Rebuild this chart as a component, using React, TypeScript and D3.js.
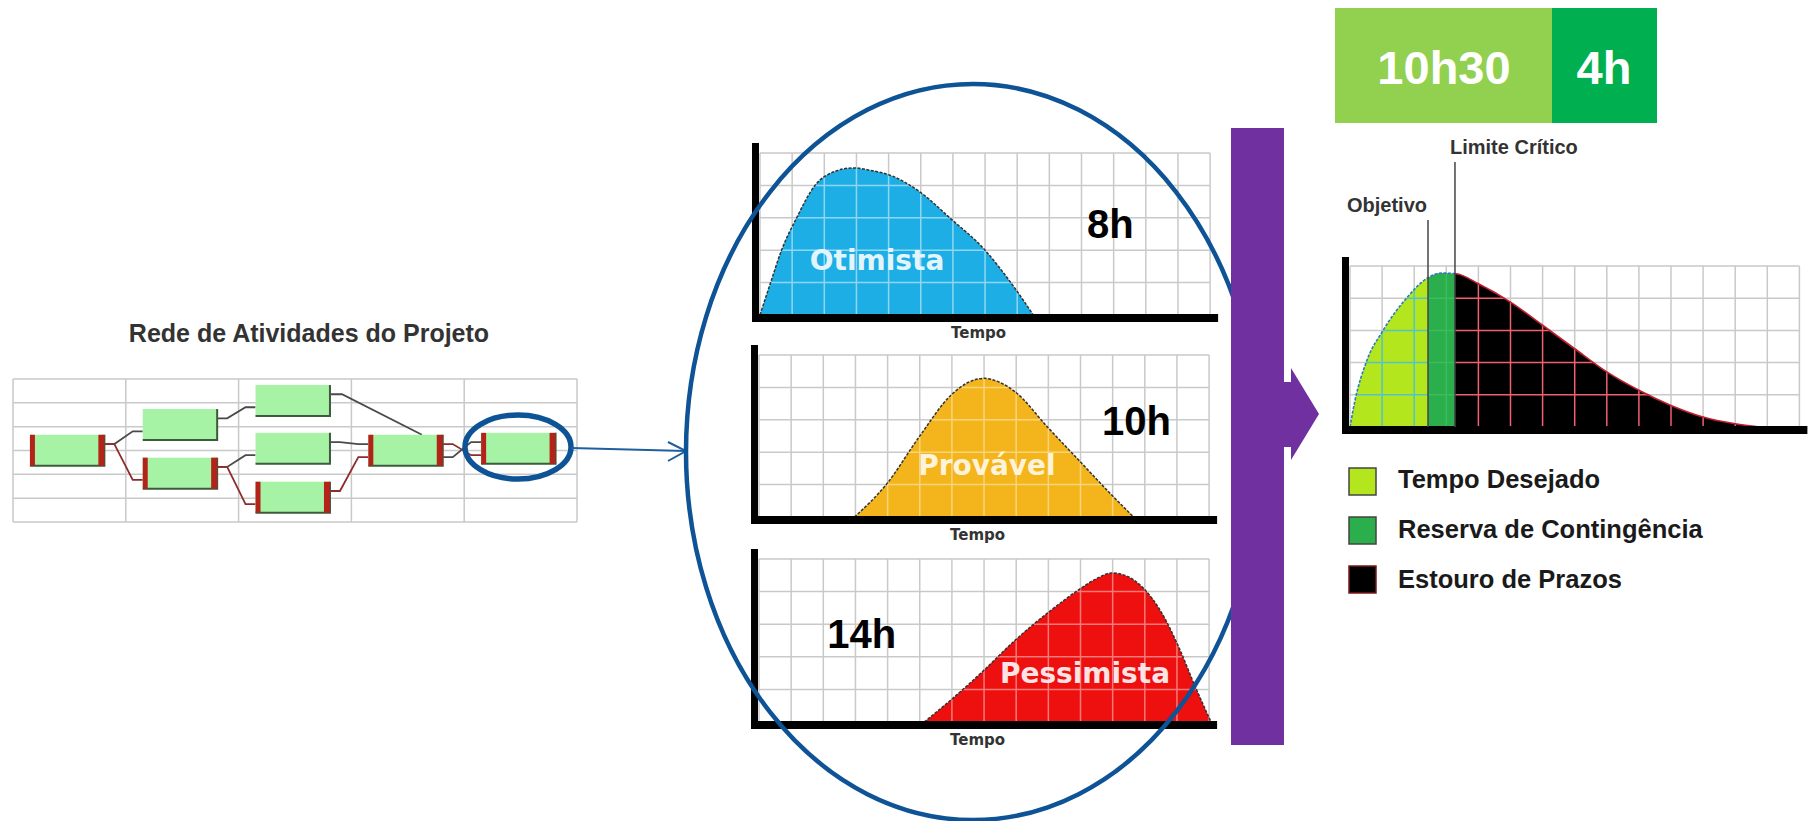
import React from 'react';
import * as d3 from 'd3';

const W = 1814;
const H = 821;

// rede de atividades (colunas / linhas da grade)
const nodeIds = ['A', 'B', 'C', 'D', 'E', 'F', 'G', 'H'];
const nodeCols = [0, 1, 2, 1, 2, 2, 3, 4];
const nodeRows = [2.34, 1.26, 0.25, 3.3, 2.26, 4.31, 2.34, 2.26];
const nodeCritical = [true, false, false, true, false, true, true, true];
const edgeFrom = ['A', 'A', 'B', 'C', 'D', 'D', 'E', 'F', 'G', 'G'];
const edgeTo = ['B', 'D', 'C', 'G', 'E', 'F', 'G', 'G', 'H', 'H'];
const edgeKind = ['step', 'step', 'step', 'top', 'step', 'step', 'step', 'step', 'cross', 'crossBack'];
const edgeCritical = [false, true, false, false, false, true, false, true, true, false];

// distribuicoes (x em celulas, y em linhas da grade)
const otimistaX = [0, 0.33, 0.67, 1.14, 1.71, 2.3, 2.9, 3.5, 4.0, 5.0, 5.9, 7.0, 7.8, 8.5];
const otimistaY = [0, 1.0, 2.0, 3.0, 4.0, 4.42, 4.54, 4.45, 4.33, 3.78, 3.0, 2.0, 1.0, 0];
const provavelX = [2.97, 3.98, 4.98, 5.97, 6.5, 7.0, 7.5, 7.96, 8.97, 9.95, 10.93, 11.65];
const provavelY = [0, 1.03, 2.47, 3.76, 4.15, 4.28, 4.15, 3.87, 2.78, 1.75, 0.72, 0];
const pessimistaX = [5.14, 6.02, 7.0, 7.98, 8.97, 9.95, 10.5, 10.98, 11.5, 11.96, 12.53, 13.05, 13.57, 14.06];
const pessimistaY = [0, 0.72, 1.59, 2.52, 3.34, 4.06, 4.4, 4.57, 4.45, 4.1, 3.34, 2.31, 1.08, 0];
const cenarios = ['Otimista', 'Provável', 'Pessimista'];
const estimativas = ['8h', '10h', '14h'];

const resultadoX = [0, 0.15, 0.5, 1.03, 1.76, 2.4, 2.85, 3.3, 4.0, 5.0, 6.0, 7.0, 8.0, 9.0, 10.0, 11.0, 12.0, 12.76];
const resultadoY = [0, 0.8, 2.0, 3.0, 4.0, 4.62, 4.78, 4.76, 4.45, 3.88, 3.16, 2.43, 1.71, 1.14, 0.67, 0.31, 0.1, 0];
const objetivo = 2.43;
const limiteCritico = 3.27;
const caixaLabels = ['10h30', '4h'];
const legendaLabels = ['Tempo Desejado', 'Reserva de Contingência', 'Estouro de Prazos'];
const legendaCores = ['#b4e61e', '#2bae4c', '#000000'];

const COLS = 14;
const ROWS = 5;
const SANS = "'Liberation Sans', Arial, sans-serif";
const WIDE = "'DejaVu Sans', Verdana, sans-serif";

function Grid({ x, y, stroke, width }) {
  return (
    <g stroke={stroke} strokeWidth={width} fill="none">
      {d3.range(COLS + 1).map((i) => (
        <line key={'v' + i} x1={x(i)} x2={x(i)} y1={y(0)} y2={y(ROWS)} />
      ))}
      {d3.range(ROWS + 1).map((j) => (
        <line key={'h' + j} x1={x(0)} x2={x(COLS)} y1={y(j)} y2={y(j)} />
      ))}
    </g>
  );
}

function Axes({ x, y, top }) {
  return (
    <g fill="#000">
      <rect x={x(0) - 8} y={top} width={7} height={y(0) - top + 7} />
      <rect x={x(0) - 8} y={y(0) - 1} width={x(COLS) - x(0) + 16} height={8} />
    </g>
  );
}

function Network() {
  const nx = d3.scaleLinear().domain([0, 5]).range([13, 577]);
  const ny = d3.scaleLinear().domain([0, 6]).range([379, 522]);
  const nodes = {};
  nodeIds.forEach((id, i) => {
    const x = nx(nodeCols[i] + 0.15);
    const y = ny(nodeRows[i]);
    nodes[id] = {
      x, y, row: nodeRows[i],
      w: nx(nodeCols[i] + 0.81) - x,
      h: ny(nodeRows[i] + 1.3) - y,
      crit: nodeCritical[i],
    };
  });

  const paths = edgeFrom.map((f, i) => {
    const s = nodes[f];
    const t = nodes[edgeTo[i]];
    const kind = edgeKind[i];
    const sx = s.x + s.w;
    if (kind === 'top') {
      const sy = s.y + 0.3 * s.h;
      return `M${sx},${sy}H${sx + 12}L${t.x + 0.72 * t.w},${t.y}`;
    }
    let ef = 0.3;
    let tf = Math.abs(t.row - s.row) < 0.2 ? 0.3 : 0.72;
    if (kind === 'cross') tf = 0.72;
    if (kind === 'crossBack') { ef = 0.72; tf = 0.3; }
    const sy = s.y + ef * s.h;
    const ty = t.y + tf * t.h;
    return `M${sx},${sy}H${sx + 10}L${t.x - 10},${ty}H${t.x}`;
  });

  return (
    <g>
      <text x={309} y={342} textAnchor="middle" fontFamily={SANS} fontWeight="bold" fontSize={25} fill="#333">
        Rede de Atividades do Projeto
      </text>
      <g stroke="#c9c9c9" strokeWidth={1.5}>
        {d3.range(6).map((i) => (
          <line key={'c' + i} x1={nx(i)} x2={nx(i)} y1={ny(0)} y2={ny(6)} />
        ))}
        {d3.range(7).map((j) => (
          <line key={'r' + j} x1={nx(0)} x2={nx(5)} y1={ny(j)} y2={ny(j)} />
        ))}
      </g>
      {paths.map((d, i) => (
        <path key={i} d={d} fill="none" stroke={edgeCritical[i] ? '#8e2b2b' : '#4a4a4a'} strokeWidth={1.8} />
      ))}
      {nodeIds.map((id) => {
        const n = nodes[id];
        return (
          <g key={id}>
            <rect x={n.x} y={n.y} width={n.w} height={n.h} fill="#a6f3a6" />
            <path d={`M${n.x + n.w},${n.y}V${n.y + n.h}H${n.x}`} fill="none" stroke="#3c5a3c" strokeWidth={2} />
            {n.crit && (
              <g fill="#b32319">
                <rect x={n.x} y={n.y} width={5} height={n.h} />
                <rect x={n.x + n.w - 6} y={n.y} width={6} height={n.h} />
              </g>
            )}
          </g>
        );
      })}
      <ellipse cx={518} cy={447} rx={53} ry={32} fill="none" stroke="#0d5396" strokeWidth={5.5} />
      <g stroke="#1f5fa0" strokeWidth={2} fill="none">
        <line x1={571} y1={448} x2={686} y2={451} />
        <polyline points="668,442 686,451 668,461" />
      </g>
    </g>
  );
}

function DistChart({ id, x0, top, base, xs, ys, fill, overlay, label, labelFill, labelPos, est, estPos }) {
  const x = d3.scaleLinear().domain([0, COLS]).range([x0, x0 + COLS * 32.15]);
  const y = d3.scaleLinear().domain([0, ROWS]).range([base, top]);
  const pts = xs.map((v, i) => [v, ys[i]]);
  const area = d3.area().x((d) => x(d[0])).y0(y(0)).y1((d) => y(d[1])).curve(d3.curveMonotoneX);
  const line = d3.line().x((d) => x(d[0])).y((d) => y(d[1])).curve(d3.curveMonotoneX);
  return (
    <g>
      <defs>
        <clipPath id={id}>
          <path d={area(pts)} />
        </clipPath>
      </defs>
      <Grid x={x} y={y} stroke="#c9c9c9" width={1.5} />
      <path d={area(pts)} fill={fill} />
      <g clipPath={`url(#${id})`}>
        <Grid x={x} y={y} stroke={overlay} width={1.5} />
      </g>
      <path d={line(pts)} fill="none" stroke="#333" strokeWidth={1.5} strokeDasharray="3,1.5" />
      <Axes x={x} y={y} top={top - 10} />
      <text x={x(labelPos[0])} y={y(labelPos[1])} textAnchor="middle" fontFamily={WIDE} fontWeight="bold" fontSize={28} fill={labelFill}>
        {label}
      </text>
      <text x={x(estPos[0])} y={y(estPos[1])} fontFamily={SANS} fontWeight="bold" fontSize={40} fill="#000">
        {est}
      </text>
      <text x={x(6.8)} y={base + 23} textAnchor="middle" fontFamily={WIDE} fontWeight="bold" fontSize={15} fill="#333">
        Tempo
      </text>
    </g>
  );
}

function Resultado() {
  const x = d3.scaleLinear().domain([0, COLS]).range([1350, 1350 + COLS * 32.1]);
  const y = d3.scaleLinear().domain([0, ROWS]).range([427, 266]);
  const pts = resultadoX.map((v, i) => [v, resultadoY[i]]);
  const area = d3.area().x((d) => x(d[0])).y0(y(0)).y1((d) => y(d[1])).curve(d3.curveMonotoneX);
  const line = d3.line().x((d) => x(d[0])).y((d) => y(d[1])).curve(d3.curveMonotoneX);
  const bounds = [0, objetivo, limiteCritico, COLS];
  const overlays = ['#52c3cc', '#3cbc5c', '#f0606e'];
  const outline = ['#2b7bbf', '#2b7bbf', '#c0202e'];
  const split = 1552;
  return (
    <g>
      <defs>
        <clipPath id="res-area">
          <path d={area(pts)} />
        </clipPath>
        {legendaCores.map((c, i) => (
          <clipPath id={'seg' + i} key={i}>
            <rect x={x(bounds[i])} y={y(ROWS) - 20} width={x(bounds[i + 1]) - x(bounds[i])} height={y(0) - y(ROWS) + 40} />
          </clipPath>
        ))}
      </defs>
      <rect x={1335} y={8} width={split - 1335} height={115} fill="#92d050" />
      <rect x={split} y={8} width={1657 - split} height={115} fill="#00b050" />
      <text x={1444} y={84} textAnchor="middle" fontFamily={SANS} fontWeight="bold" fontSize={47} fill="#fff">
        {caixaLabels[0]}
      </text>
      <text x={1604} y={84} textAnchor="middle" fontFamily={SANS} fontWeight="bold" fontSize={47} fill="#fff">
        {caixaLabels[1]}
      </text>

      <Grid x={x} y={y} stroke="#c9c9c9" width={1.5} />
      {legendaCores.map((c, i) => (
        <g key={i} clipPath={`url(#seg${i})`}>
          <path d={area(pts)} fill={c} />
          <g clipPath="url(#res-area)">
            <Grid x={x} y={y} stroke={overlays[i]} width={1.5} />
          </g>
          <path d={line(pts)} fill="none" stroke={outline[i]} strokeWidth={1.6} strokeDasharray={i < 2 ? '3,1.5' : null} />
        </g>
      ))}
      <Axes x={x} y={y} top={257} />

      <g stroke="#444" strokeWidth={1.5}>
        <line x1={x(objetivo)} x2={x(objetivo)} y1={220} y2={y(0)} />
        <line x1={x(limiteCritico)} x2={x(limiteCritico)} y1={162} y2={y(0)} />
      </g>
      <text x={1347} y={212} fontFamily={SANS} fontWeight="bold" fontSize={20} fill="#333">Objetivo</text>
      <text x={1450} y={154} fontFamily={SANS} fontWeight="bold" fontSize={20} fill="#333">Limite Crítico</text>

      {legendaLabels.map((l, i) => (
        <g key={l}>
          <rect x={1349} y={468 + i * 49} width={27} height={27} fill={legendaCores[i]}
            stroke={i === 2 ? '#7a1a1a' : '#444'} strokeWidth={1.5} />
          <text x={1398} y={488 + i * 50} fontFamily={SANS} fontWeight="bold" fontSize={25.5} fill="#1a1a1a">{l}</text>
        </g>
      ))}
    </g>
  );
}

export default function App() {
  return (
    <svg width={W} height={H} style={{ position: 'absolute', left: 0, top: 0, background: '#fff' }}>
      <rect width={W} height={H} fill="#fff" />
      <Network />
      <DistChart id="c1" x0={760} top={153} base={315} xs={otimistaX} ys={otimistaY} fill="#1eaee6" overlay="#8fd6f2"
        label={cenarios[0]} labelFill="#e2f5fc" labelPos={[3.64, 1.39]} est={estimativas[0]} estPos={[10.17, 2.38]} />
      <DistChart id="c2" x0={759} top={355} base={517} xs={provavelX} ys={provavelY} fill="#f4b41c" overlay="#f8d57a"
        label={cenarios[1]} labelFill="#fdf3d8" labelPos={[7.09, 1.3]} est={estimativas[1]} estPos={[10.67, 2.53]} />
      <DistChart id="c3" x0={759} top={559} base={722} xs={pessimistaX} ys={pessimistaY} fill="#ee0f0f" overlay="#f77a7a"
        label={cenarios[2]} labelFill="#fde3e3" labelPos={[10.14, 1.2]} est={estimativas[2]} estPos={[2.12, 2.28]} />
      <ellipse cx={973} cy={452} rx={287} ry={368} fill="none" stroke="#0d5396" strokeWidth={4.5} />
      <rect x={1231} y={128} width={53} height={617} fill="#7030a0" />
      <polygon points="1283,382 1291,382 1291,368 1319,414 1291,460 1291,447 1283,447" fill="#7030a0" />
      <Resultado />
    </svg>
  );
}
